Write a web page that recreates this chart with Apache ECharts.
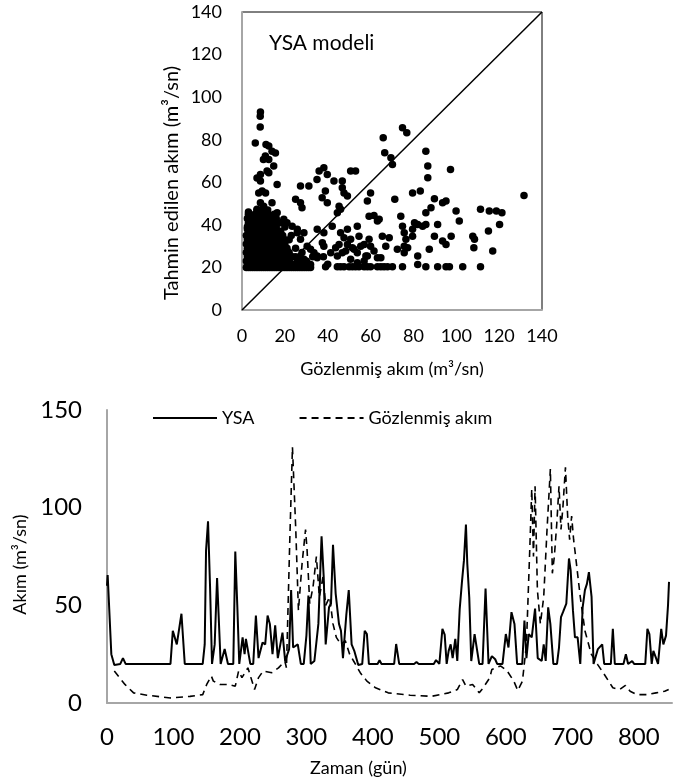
<!DOCTYPE html>
<html>
<head>
<meta charset="utf-8">
<script src="https://cdn.jsdelivr.net/npm/echarts@6/dist/echarts.min.js"></script>
<style>html,body{margin:0;padding:0;background:#fff;}#c{width:675px;height:783px;}</style>
</head>
<body>
<div id="c"></div>
<script>
// ---------- DATA ----------
var scatterTicks = [0, 20, 40, 60, 80, 100, 120, 140];
var lineXTicks = [0, 100, 200, 300, 400, 500, 600, 700, 800];
var lineYTicks = [0, 50, 100, 150];
var diagonal = [[0, 0], [140, 140]];

// dense cluster of low flows (observed, predicted)
var clusterPoints = [
 [2,20],[3,20],[4,20],[5,20],[6,20],[7,20],[8,20],[9,20],[10,20],[11,20],[12,20],[13,20],[14,20],[15,20],[16,20],[17,20],[18,20],[19,20],[20,20],[21,20],[22,20],[23,20],[24,20],[25,20],[26,20],[27,20],[28,20],[29,20],[30,20],[31,20],[32,20],
 [2.5,21.5],[4.5,21.5],[6.5,21.5],[9,21.5],[11.5,21.5],[14,21.5],[16.5,21.5],[19,21.5],[21.5,21.5],[24,21.5],[28,21.5],
 [2,23],[3.5,23],[5,23],[7,23],[8.5,23],[10,23],[12,23],[13.5,23],[15,23],[17,23],[18.5,23],[20,23],[22,23],[26,23],[30,23],
 [2.5,25],[4,25],[6,25],[7.5,25],[9.5,25],[11,25],[12.5,25],[14.5,25],[16,25],[18,25],[19.5,25],[21,25],[23.5,25],[25,25],[27,25],[33,25],
 [2,27],[3.5,27],[5.5,27],[7,27],[9,27],[10.5,27],[12,27],[14,27],[15.5,27],[17,27],[19,27],[20.5,27],[22,27],[28,27],
 [2.5,29],[4,29],[6,29],[8,29],[9.5,29],[11,29],[13,29],[14.5,29],[16,29],[18,29],[19.5,29],[21,29],[25,29],
 [2,31],[3.5,31],[5,31],[7,31],[8.5,31],[10,31],[12,31],[13.5,31],[15,31],[17,31],[18.5,31],[20,31],
 [2.5,33],[4.5,33],[6,33],[8,33],[9.5,33],[11,33],[13,33],[14.5,33],[16,33],[18,33],[20,33],[22,33],
 [2,35],[3.5,35],[5.5,35],[7,35],[9,35],[10.5,35],[12,35],[14,35],[15.5,35],[17,35],[19,35],[23,35],
 [3,37],[4.5,37],[6,37],[8,37],[9.5,37],[11,37],[13,37],[14.5,37],[16,37],[18,37],
 [2.5,39],[4,39],[6,39],[7.5,39],[9,39],[11,39],[12.5,39],[14,39],[16,39],[20,39],
 [3,41],[5,41],[6.5,41],[8,41],[10,41],[11.5,41],[13,41],[15,41],[18,41],
 [4,43],[5.5,43],[7,43],[9,43],[10.5,43],[12,43],[14,43],[16,43],
 [3,45],[6,45],[8,45],[10,45],[12,45],[15,45],
 [7,47],[9,47],[12,47],[3,46],[2.5,43],[3,40],[2.5,38]
];

// scattered points (observed, predicted)
var scatterPoints = [
 [8.6,93],[8.5,91],[8.5,86],[6.2,78.5],[10.9,72.3],[11.2,77.8],[12.5,77],[14,74.6],[15.6,73.8],[12.5,70.7],
 [14.8,67.6],[11.7,65.3],[8.6,63.7],[7,62],[8.6,60.6],[9.4,55.9],[7.8,55],[8.6,50.4],[10.1,48.8],[7,47.3],
 [11,55],[14,50.4],[16.4,59],[12.5,64.5],[10,70.7],[16.4,45.7],[19.5,42.6],[21,41],[23.4,39.4],[25.8,36.3],
 [27.3,58.2],[31.2,58.2],[25,52],[27.3,50.4],[28,48],[35,61.3],[36,65.3],[38.2,66.8],[39.8,63.7],[38.9,55.9],
 [37.4,52.7],[39.8,50.4],[42.9,60.6],[46.8,60.6],[46.8,57.4],[47.6,55],[45.3,48.8],[46,47.3],[44.5,45.7],[49.2,53.5],
 [50.7,65.3],[53,65.3],
 [65.9,80.9],[66.6,73.9],[69.5,71.5],[70.2,68.4],[74.9,85.6],[76.9,83.3],[71.3,52],[60,55],[58.5,51.2],[59.3,44.1],
 [61.6,44.4],[64,42.6],[63.2,41.8],[53.8,39.4],[59.3,33.2],[57,30.8],[60,30],[61.6,27.7],[63.2,24.6],[64.8,24.6],
 [65.5,34.7],[68.7,34],[67.1,30],[74.1,44.1],[74.9,39.4],[75.7,36.3],[76.5,33.2],[75.7,30],[77.3,29.3],[75.7,26.9],
 [72.5,28.5],[79.6,55],[83.2,55.9],[80.5,41],[82,40.2],[84.3,39.4],[79.6,37.9],[79.6,34.7],[82,25.4],[82,21.4],
 [85.8,74.6],[86.7,67.6],[86.7,62.1],[85.8,45.7],[88.2,48],[89.8,52.3],[85.8,40.2],[87.4,28.5],[91.3,40.2],[89.8,34.7],
 [93.6,50.4],[95.2,51.2],[93.6,32.4],[95.2,30.8],[97.3,66],[97.6,34.7],[99.9,46.5],[101.4,41.8],[107.7,34.7],[108.5,33.2],
 [108.2,29.3],[111.3,47.3],[115,37.1],[115.4,46.5],[117,27.7],[118.7,46.5],[121.3,45.7],[120.2,40.2],[131.6,53.8],
 [39,20.3],[44.5,20.3],[46,20.3],[47.6,20.3],[50,20.3],[51.5,20.3],[53,20.3],[54.6,20.3],[57,20.3],[58.5,20.3],
 [60,20.3],[63.2,20.3],[64.8,20.3],[66.3,20.3],[67.9,20.3],[70.2,20.3],[74.9,20.3],[85.8,20.3],[91.3,20.3],
 [95.2,20.3],[96.8,20.3],[103,20.3],[111.3,20.3],[38,25],[40,21.5],
 [25.8,37.9],[28.9,36.3],[27.3,33.2],[32,28.5],[35.1,37.9],[38.2,36.3],[42.1,39.4],[38.2,30],[41.4,26.9],[43.7,29.3],
 [44.5,25.4],[46.8,26.9],[46,36.3],[47.6,34],[49.2,37.9],[50.7,33.2],[52.3,28.5],[54.6,34.7],[55.4,30],[57.8,25.4],
 [35.1,24.6],[33.6,26.9],[30.4,30],[28.9,23.8],[32,21.4],[25.8,22.2],[30.4,22.2],[35.1,25.4],[37.5,31.6],[49.2,30.8],
 [45.3,30.8],[48.4,27.7],[51.5,29.3],[53.8,26.9],[58.5,25.4],[50.7,23.8],[53.8,22.2],[57,23]
];

// time series: [day, flow]
var ysaSeries = [
 [0,60],[1,65.5],[6.5,25],[11,19.5],[20,20],[24,23],[28,20],[95.5,20],[99,37],[102,37],[105,30],[108,31],[112,45.7],[117,20],
 [144,20],[147,30],[149,78],[152,93],[155,60],[158,20],[162,30],[165.6,64],[171,20],[177,27.6],[182,20],
 [190,20],[193,77.6],[196,50],[199,20],[204,33.6],[207,25],[209,32.8],[215.6,20],[220,20],[224,44.8],[228,23],
 [234,31],[238,30],[241.6,44.8],[245,40.5],[249,25],[253,39.7],[257,23],[264,36],[268,21.5],[274,27.6],[277,57.8],
 [280,28.4],[287,30],[291.6,20],[296,20],[300,34.5],[303,55],[306.5,20],[312,21.5],[318,40.5],[322.8,85.3],
 [326,64.7],[329,30],[334,49],[337,50.9],[340,81],[344,56],[349,40.5],[352,37],[355,23],[360,45],[363.7,57.8],
 [368,30],[372,26.7],[378,19.5],[384,20],[387.7,37],[391,35.3],[394,20],
 [407,20],[410,21.9],[413,20],[432,20],[435,30.2],[439.6,20],[462,20],[465.6,21],[469,20],[491.6,20],[495,22],
 [500,20],[504.6,38],[508,35],[511,20],[514,26.7],[517,30],[520,23],[524,32.8],[527,21.5],[530.6,48],[534,62],
 [537,73],[540,91.4],[542,71.5],[545,54],[548,21.5],[553,35.3],[556,36],[560,20],[565,20],[569.5,58.6],[574,20],
 [579,24],[584,22.4],[587,20],[595,20],[600,35.3],[604,28.4],[608.5,46.5],[613,40.5],[617,20],[624.7,20],[628,42.2],
 [631,23],[634.5,35.3],[639,33.6],[644,48.3],[648,23],[654,21.5],[657,30],[660,21.5],[663.7,49],[667,40.5],
 [671.5,20],[677,20],[680,28.4],[683,44],[686,46.5],[691,50.9],[695,74],[697.5,68],[701,47.4],[704,33.6],[708,33.6],
 [712,20],[715.6,49],[719,57.8],[722,61],[725,67],[729,54.3],[732,20],[738.5,27.6],[745,30],[748,20],[758,20],
 [761,38],[764,20],[777,20],[780.6,25],[784,20],[790,21.5],[793,20],[809.8,20],[813,38],[816,35.3],[819.5,20],
 [822,26.7],[826,23],[829,20],[833.8,38],[837,30],[841,34.5],[844,50],[845.5,62]
];
var observedSeries = [
 [11,16.4],[27,9.5],[40,5.2],[60,4],[95.5,2.6],[125,3.4],[144,4.3],[150,9.5],[157,13.8],[160,11.2],[170,9.5],
 [183,9.5],[193,8.6],[198,16.4],[203,13],[212,18],[222,6.9],[228,13],[235,16.4],[248,15.5],[258,18],[267.5,21.5],
 [270,18],[275,83.6],[279,131],[284,88.8],[288,47.4],[293.5,71.5],[298.7,88.8],[301,78.4],[305,50.9],[310,59.5],
 [315,75],[319.5,54.3],[325,64.7],[329,50],[335,54.3],[340,40.5],[345,33.6],[352,30],[358.5,31.9],[365,25],
 [371,21.5],[381,15.5],[391,11.2],[404,7.8],[423,5.2],[456,4],[488,3.4],[514,5.2],[527,6.9],[535,12],[540,8.6],
 [550,9.5],[560,5.2],[566,7.8],[576,13],[579,17.2],[592,19],[602,16.4],[612,11.2],[618,6.4],[625,11.2],[631,30],
 [636,78.4],[639,109.5],[641.6,75],[644,111],[647.5,57.8],[652,40.5],[657,54.3],[662,88.8],[667,119.8],[670,66.4],
 [673,75],[676.7,92],[680,111],[683,88.8],[686,100.8],[689.7,120.7],[693,95.7],[696,83.6],[699,95.7],[702,83.6],
 [705,75],[712,54.3],[719,37],[728.6,25],[738,19.8],[748,14.7],[761,7.8],[771,6.9],[780,9],[787,6],[797,4.3],
 [813,4.3],[826,5.2],[839,6],[845,6.9]
];

// ---------- CHART ----------
var FONT = 'Lato';
var AXIS_GREY = '#a6a6a6';
var chart = echarts.init(document.getElementById('c'), null, {renderer: 'canvas'});

function tickFmt(ticks) {
  return function (v) { return ticks.indexOf(v) >= 0 ? String(v) : ''; };
}

chart.setOption({
  animation: false,
  backgroundColor: '#fff',
  textStyle: {fontFamily: FONT, color: '#000'},
  title: {
    text: 'YSA modeli',
    left: 264, top: 28,
    textStyle: {fontFamily: FONT, fontSize: 21, fontWeight: 'normal', color: '#000'}
  },
  legend: {
    left: 147, top: 404,
    itemWidth: 64, itemHeight: 2, itemGap: 44,
    itemStyle: {opacity: 0},
    textStyle: {fontFamily: FONT, fontSize: 18, color: '#000'},
    data: ['YSA', 'Gözlenmiş akım']
  },
  grid: [
    {left: 242, top: 12, width: 300, height: 298, show: true, borderColor: '#000', borderWidth: 1, backgroundColor: 'transparent'},
    {left: 107, top: 410, right: 0, bottom: 80}
  ],
  xAxis: [
    {
      gridIndex: 0, type: 'value', min: 0, max: 140, interval: 20,
      name: 'Gözlenmiş akım (m³/sn)', nameLocation: 'middle', nameGap: 50,
      nameTextStyle: {fontFamily: FONT, fontSize: 18, color: '#000'},
      axisLine: {show: true, lineStyle: {color: AXIS_GREY, width: 2}},
      axisTick: {show: false}, splitLine: {show: false},
      axisLabel: {fontFamily: FONT, fontSize: 18, color: '#000', margin: 17, formatter: tickFmt(scatterTicks)}
    },
    {
      gridIndex: 1, type: 'value', min: 0, max: 850, interval: 100,
      name: 'Zaman (gün)', nameLocation: 'middle', nameGap: 56,
      nameTextStyle: {fontFamily: FONT, fontSize: 18, color: '#000', padding: [0, 62, 0, 0]},
      axisLine: {show: true, lineStyle: {color: AXIS_GREY, width: 2}},
      axisTick: {show: false}, splitLine: {show: false},
      axisLabel: {fontFamily: FONT, fontSize: 24, color: '#000', margin: 22, formatter: tickFmt(lineXTicks)}
    }
  ],
  yAxis: [
    {
      gridIndex: 0, type: 'value', min: 0, max: 140, interval: 20,
      name: 'Tahmin edilen akım (m³/sn)', nameLocation: 'middle', nameGap: 60, nameRotate: 90,
      nameTextStyle: {fontFamily: FONT, fontSize: 20, color: '#000', padding: [0, 44, 0, 0]},
      axisLine: {show: true, lineStyle: {color: AXIS_GREY, width: 2}},
      axisTick: {show: false}, splitLine: {show: false},
      axisLabel: {fontFamily: FONT, fontSize: 18, color: '#000', margin: 20, formatter: tickFmt(scatterTicks)}
    },
    {
      gridIndex: 1, type: 'value', min: 0, max: 150, interval: 50,
      name: 'Akım (m³/sn)', nameLocation: 'middle', nameGap: 75, nameRotate: 90,
      nameTextStyle: {fontFamily: FONT, fontSize: 18, color: '#000', padding: [0, 16, 0, 0]},
      axisLine: {show: true, lineStyle: {color: AXIS_GREY, width: 2}},
      axisTick: {show: false}, splitLine: {show: false},
      axisLabel: {fontFamily: FONT, fontSize: 24, color: '#000', margin: 25, formatter: tickFmt(lineYTicks)}
    }
  ],
  series: [
    {
      name: 'diag', type: 'line', xAxisIndex: 0, yAxisIndex: 0, data: diagonal,
      symbol: 'none', lineStyle: {color: '#000', width: 1.5}, silent: true, z: 1
    },
    {
      name: 'cluster', type: 'scatter', xAxisIndex: 0, yAxisIndex: 0, data: clusterPoints,
      symbolSize: 7.5, itemStyle: {color: '#000', opacity: 1}, z: 2
    },
    {
      name: 'points', type: 'scatter', xAxisIndex: 0, yAxisIndex: 0, data: scatterPoints,
      symbolSize: 7.5, itemStyle: {color: '#000', opacity: 1}, z: 2
    },
    {
      name: 'YSA', type: 'line', xAxisIndex: 1, yAxisIndex: 1, data: ysaSeries,
      symbol: 'none', lineStyle: {color: '#000', width: 2, type: 'solid'}, itemStyle: {color: '#000'}, z: 3
    },
    {
      name: 'Gözlenmiş akım', type: 'line', xAxisIndex: 1, yAxisIndex: 1, data: observedSeries,
      symbol: 'none', lineStyle: {color: '#000', width: 1.6, type: [7, 5]}, itemStyle: {color: '#000'}, z: 2
    }
  ]
});
</script>
</body>
</html>
